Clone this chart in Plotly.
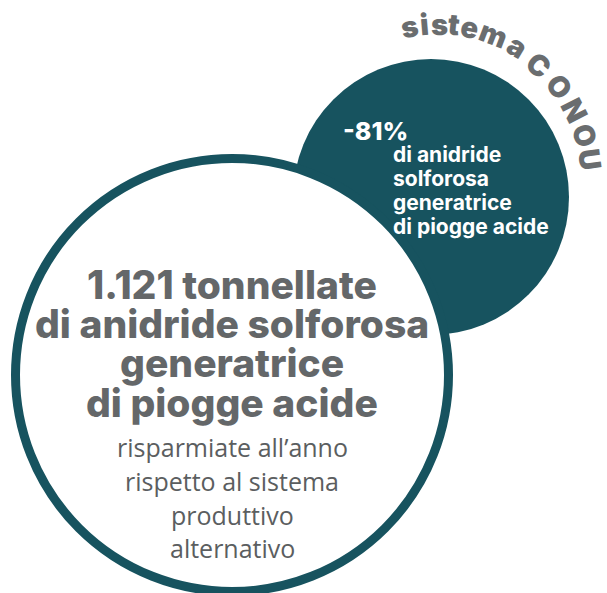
import math
import plotly.graph_objects as go

W, H = 607, 593
TEAL = "#17535f"
GREY_B = "#646769"
GREY_R = "#5b5e60"

# content
big_lines = ["1.121 tonnellate", "di anidride solforosa", "generatrice", "di piogge acide"]
big_y = [284, 323, 362, 402]
sub_lines = ["risparmiate all\u2019anno", "rispetto al sistema", "produttivo", "alternativo"]
sub_y = [447, 481, 515, 548]
pct_label = "-81%"
teal_lines = ["di anidride", "solforosa", "generatrice", "di piogge acide"]
teal_y = [154, 178, 202, 226]
arc_chars = ["s", "i", "s", "t", "e", "m", "a", "C", "O", "N", "O", "U"]
arc_angles = [-10.5, -5.0, 0.4, 6.0, 12.0, 21.0, 30.8, 41.3, 52.3, 63.0, 73.2, 82.4]

# geometry
big_c, big_r, big_lw = (232, 375), 216.5, 9
teal_c, teal_r = (431, 197), 138
arc_c, arc_r = (438, 180), 153

fig = go.Figure()
fig.add_trace(go.Scatter(x=[0, W], y=[0, H], mode="markers", marker=dict(opacity=0), hoverinfo="skip", showlegend=False))

shapes = [
    dict(type="circle", xref="x", yref="y", x0=teal_c[0]-teal_r, x1=teal_c[0]+teal_r,
         y0=teal_c[1]-teal_r, y1=teal_c[1]+teal_r, fillcolor=TEAL, line=dict(width=0), layer="above"),
    dict(type="circle", xref="x", yref="y", x0=big_c[0]-big_r, x1=big_c[0]+big_r,
         y0=big_c[1]-big_r, y1=big_c[1]+big_r, fillcolor="white", line=dict(color=TEAL, width=big_lw), layer="above"),
]

ann = []
BOLD = "Inter"
for t, y in zip(big_lines, big_y):
    ann.append(dict(x=big_c[0], y=y, text=t, showarrow=False, xanchor="center", yanchor="middle",
                    font=dict(family=BOLD, size=39, color=GREY_B, weight=800)))
for t, y in zip(sub_lines, sub_y):
    ann.append(dict(x=big_c[0], y=y, text=t, showarrow=False, xanchor="center", yanchor="middle",
                    font=dict(family="Open Sans", size=25, color=GREY_R, weight=400)))
ann.append(dict(x=341, y=131, text=pct_label, showarrow=False, xanchor="left", yanchor="middle",
                font=dict(family=BOLD, size=25, color="white", weight=800)))
for t, y in zip(teal_lines, teal_y):
    ann.append(dict(x=391, y=y, text=t, showarrow=False, xanchor="left", yanchor="middle",
                    font=dict(family=BOLD, size=21, color="white", weight=700)))

for c, ang in zip(arc_chars, arc_angles):
    rad = math.radians(ang)
    r = arc_r + (3 if c.islower() else 0)
    x = arc_c[0] + r * math.sin(rad)
    y = arc_c[1] - r * math.cos(rad)
    ann.append(dict(x=x, y=y, text=c, showarrow=False, xanchor="center", yanchor="middle",
                    textangle=ang, font=dict(family=BOLD, size=29, color="#6a6d6f", weight=900)))

fig.update_layout(
    width=W, height=H, margin=dict(l=0, r=0, t=0, b=0),
    paper_bgcolor="white", plot_bgcolor="white",
    xaxis=dict(range=[0, W], visible=False, fixedrange=True),
    yaxis=dict(range=[H, 0], visible=False, fixedrange=True),
    shapes=shapes, annotations=ann, showlegend=False,
)
fig.write_html("out.html", config={"displayModeBar": False},
               post_script="document.body.style.margin='0';document.body.style.padding='0';")
